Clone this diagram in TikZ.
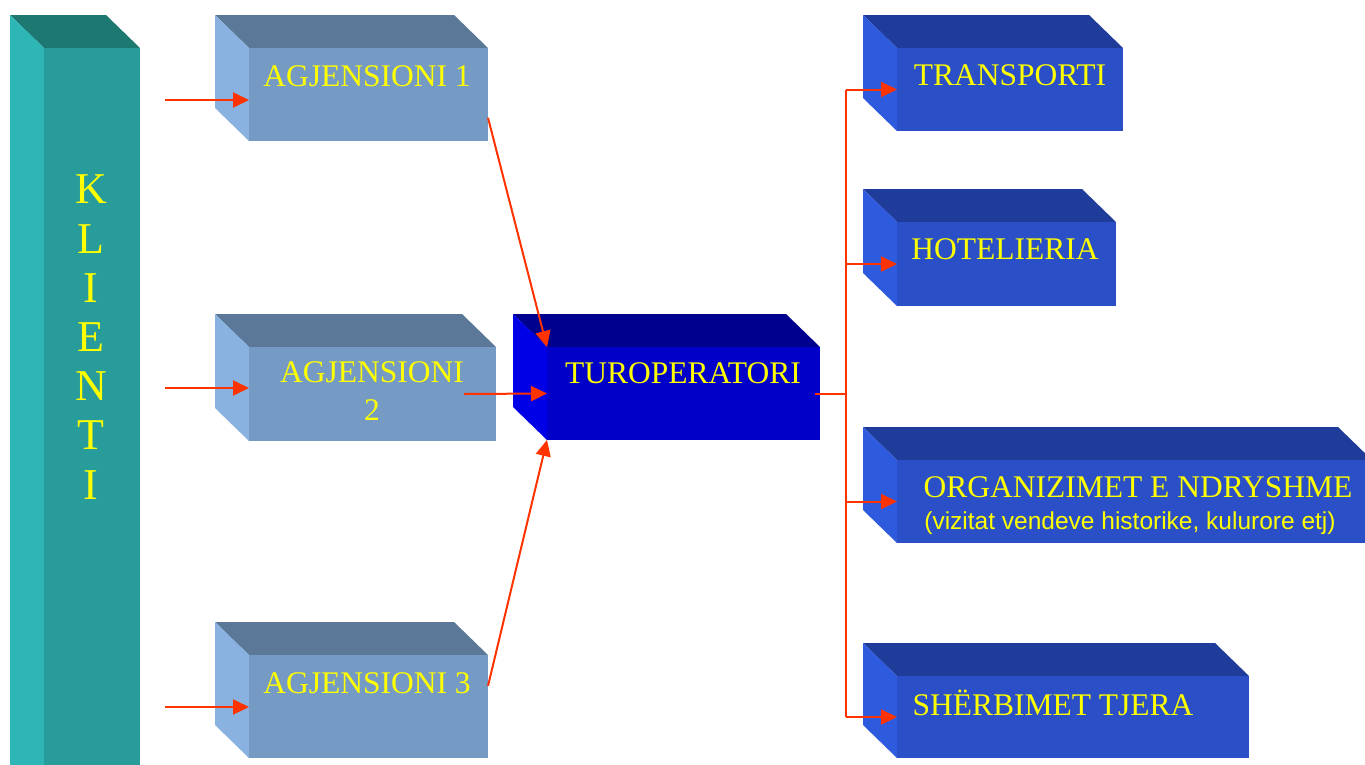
\documentclass[tikz,border=0pt]{standalone}
\usepackage{fontspec}
\setmainfont{Liberation Serif}
\newfontfamily\arialfont{Liberation Sans}
\usetikzlibrary{calc,arrows.meta}
\definecolor{verdha}{HTML}{FFFF00}
\definecolor{kuqe}{HTML}{FF3300}
\definecolor{klfront}{HTML}{279C9A}
\definecolor{klside}{HTML}{2EB6B6}
\definecolor{kltop}{HTML}{1E7872}
\definecolor{agfront}{HTML}{759BC5}
\definecolor{agside}{HTML}{89B2E0}
\definecolor{agtop}{HTML}{5B7898}
\definecolor{tufront}{HTML}{0000C8}
\definecolor{tuside}{HTML}{0000E6}
\definecolor{tutop}{HTML}{00008F}
\definecolor{shfront}{HTML}{2A4FC6}
\definecolor{shside}{HTML}{2E5BDE}
\definecolor{shtop}{HTML}{203C9A}
\tikzset{
	teksti/.style={text=verdha, inner sep=0pt, font=\fontsize{31.5}{36}\selectfont},
	shigjeta/.style={draw=kuqe, line width=2pt, -{Triangle[length=16pt,width=15pt]}},
	lidhje/.style={draw=kuqe, line width=2pt},
}
\newcommand{\kuti}[6]{%
	\fill[#6top] (#2-34,#3-33) -- (#4-34,#3-33) -- (#4,#3) -- (#2,#3) -- cycle;
	\fill[#6side] (#2-34,#3-33) -- (#2,#3) -- (#2,#5) -- (#2-34,#5-33) -- cycle;
	\node[fill=#6front, anchor=north west, inner sep=0pt, outer sep=0pt,
		minimum width={(#4-#2)*1pt}, minimum height={(#5-#3)*1pt}] (#1) at (#2,#3) {};
}

\begin{document}
\begin{tikzpicture}[x=1pt,y=-1pt]
\useasboundingbox (0,0) rectangle (1365,764);
\kuti{klienti}{44}{48}{140}{800}{kl}
\kuti{agj1}{249}{48}{488}{141}{ag}
\kuti{agj2}{249}{347}{496}{441}{ag}
\kuti{agj3}{249}{655}{488}{758}{ag}
\kuti{turop}{547}{347}{820}{440}{tu}
\kuti{transporti}{897}{48}{1123}{131}{sh}
\kuti{hotelieria}{897}{222}{1116}{306}{sh}
\kuti{organizimet}{897}{460}{1372}{543}{sh}
\kuti{sherbimet}{897}{676}{1249}{758}{sh}

\node[teksti, align=center, font=\fontsize{44}{49.2}\selectfont] (klienti-t) at (91,337) {K\\L\\I\\E\\N\\T\\I};
\node[teksti] (agj1-t) at (367,76) {AGJENSIONI 1};
\node[teksti, align=center, font=\fontsize{31.5}{38}\selectfont] (agj2-t) at (372,391) {AGJENSIONI\\2};
\node[teksti] (agj3-t) at (367,683) {AGJENSIONI 3};
\node[teksti] (turop-t) at (683,373) {TUROPERATORI};
\node[teksti] (transporti-t) at (1010,75) {TRANSPORTI};
\node[teksti] (hotelieria-t) at (1005,249) {HOTELIERIA};
\node[teksti] (organizimet-t) at (1138,487) {ORGANIZIMET E NDRYSHME};
\node[teksti, font=\arialfont\fontsize{24.5}{28}\selectfont] (organizimet-t2) at (1130,523) {(vizitat vendeve historike, kulurore etj)};
\node[teksti] (sherbimet-t) at (1053,703) {SHËRBIMET TJERA};

\coordinate (k1) at (165,100);
\coordinate (k2) at (165,388);
\coordinate (k3) at (165,707);
\draw[shigjeta] (k1) -- (k1 -| agj1.west);
\draw[shigjeta] (k2) -- (k2 -| agj2.west);
\draw[shigjeta] (k3) -- (k3 -| agj3.west);
\draw[shigjeta] ($(agj1.north east)!0.75!(agj1.south east)$) -- (turop.north west);
\draw[shigjeta] ([xshift=-32pt]agj2.east) -- (turop.west);
\draw[shigjeta] ($(agj3.north east)!0.3!(agj3.south east)$) -- (turop.south west);
\coordinate (nyje) at ($(turop.east)+(26,0)$);
\draw[lidhje] ([xshift=-5pt]turop.east) -- (nyje);
\draw[lidhje] (nyje |- transporti.west) -- (nyje |- sherbimet.west);
\foreach \k in {transporti,hotelieria,organizimet,sherbimet}
	\draw[shigjeta] (nyje |- \k.west) -- (\k.west);
\end{tikzpicture}
\end{document}
